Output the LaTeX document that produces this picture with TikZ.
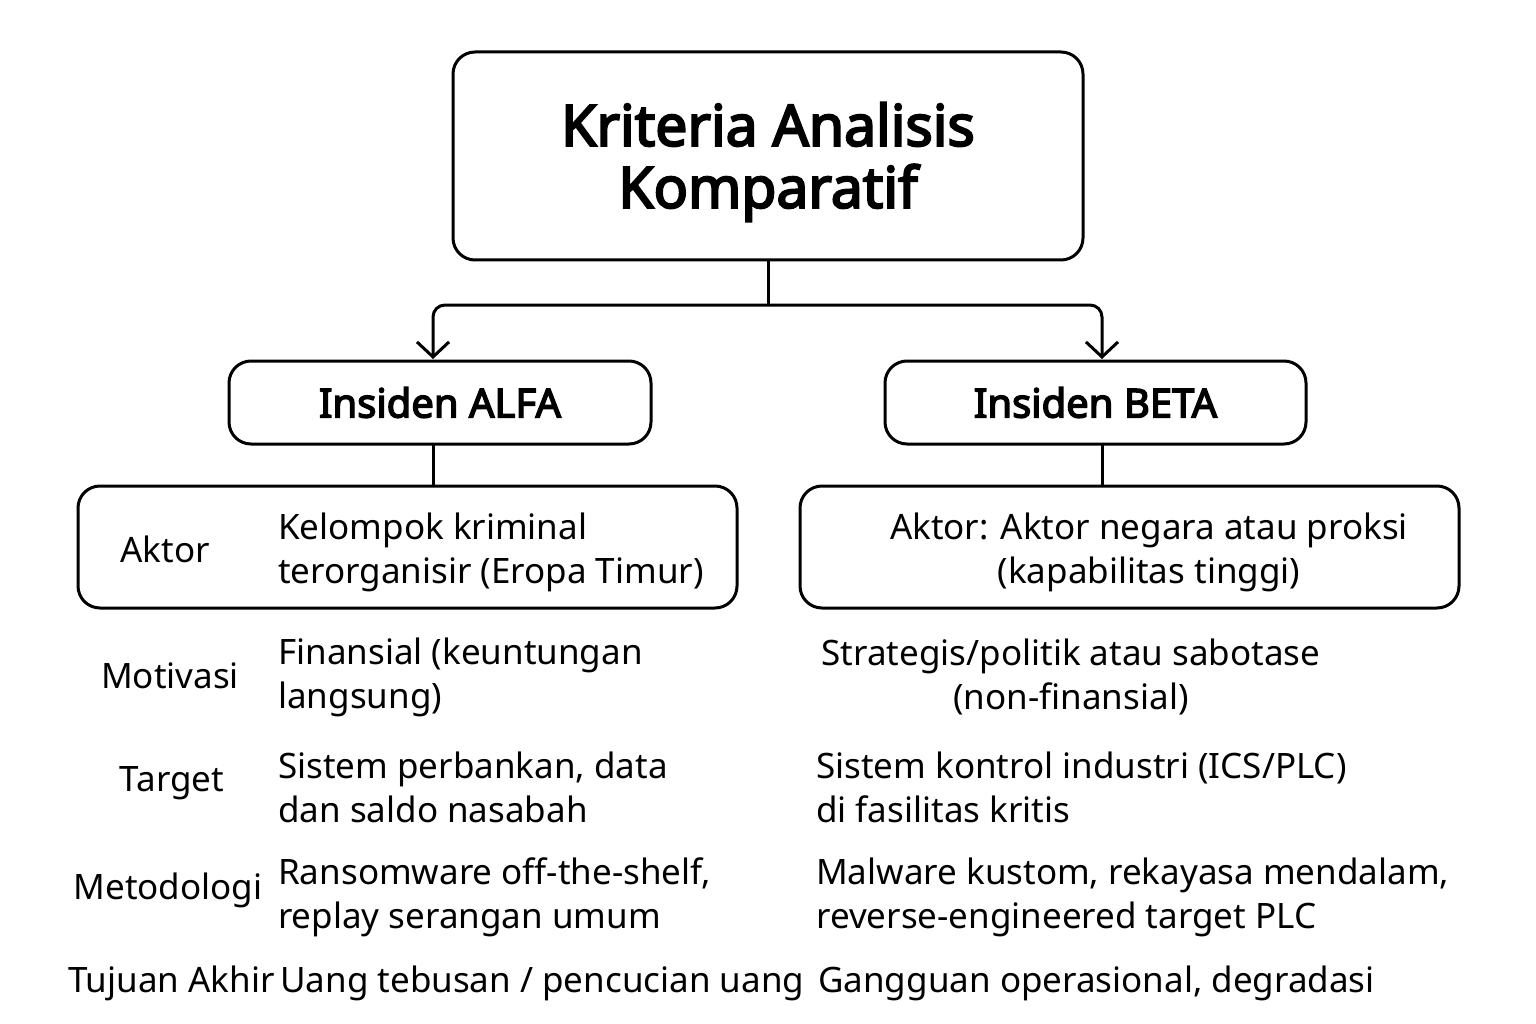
\documentclass[tikz,border=0pt]{standalone}
\usepackage{fontspec}
\setmainfont{Noto Sans}[AutoFakeBold=3.6]
\usetikzlibrary{arrows.meta}
\tikzset{
	box/.style={draw,line width=3pt,rounded corners=22pt,inner sep=0pt},
	conn/.style={line width=3pt,rounded corners=12pt},
	cell/.style={anchor=west,align=left,inner sep=0pt,font=\fontsize{35}{44}\selectfont},
	label/.style={anchor=center,inner sep=0pt,font=\fontsize{35}{44}\selectfont}
}
\begin{document}
\begin{tikzpicture}[x=1pt,y=-1pt]
	\useasboundingbox (0,0) rectangle (1536,1024);
	
	\node[box,minimum width=630pt,minimum height=208pt] (title) at (768,156) {};
	\node[align=center,inner sep=0pt,font=\fontsize{57}{62}\selectfont\bfseries]
		(titleText) at (768,162) {Kriteria Analisis\\Komparatif};
	\node[box,minimum width=422pt,minimum height=83pt,font=\fontsize{40}{44}\selectfont\bfseries]
		(alfa) at (440,402.5) {Insiden ALFA};
	\node[box,minimum width=421pt,minimum height=83pt,font=\fontsize{40}{44}\selectfont\bfseries]
		(beta) at (1095.5,402.5) {Insiden BETA};
	\node[box,minimum width=659pt,minimum height=122pt] (alfaAktor) at (407.5,547) {};
	\node[box,minimum width=659pt,minimum height=122pt] (betaAktor) at (1129.5,547) {};
	
	\coordinate (split) at (768,305);
	\coordinate (alfaIn) at (433,359);
	\coordinate (betaIn) at (1102,359);
	\coordinate (alfaOut) at (433,444);
	\coordinate (betaOut) at (1102,444);
	\draw[conn] (title.south) -- (split);
	\draw[conn,-{Straight Barb[length=15pt,width=32pt]}] (split) -| (alfaIn);
	\draw[conn,-{Straight Barb[length=15pt,width=32pt]}] (split) -| (betaIn);
	\draw[conn] (alfaOut) -- (alfaOut |- alfaAktor.north);
	\draw[conn] (betaOut) -- (betaOut |- betaAktor.north);
	
	% row labels
	\node[label] (lAktor) at (165,549) {Aktor};
	\node[label] (lMotivasi) at (170,676) {Motivasi};
	\node[label] (lTarget) at (172,783) {Target};
	\node[label] (lMetodologi) at (168,890) {Metodologi};
	\node[label,anchor=west] (lTujuan) at (68,983) {Tujuan Akhir};
	
	% ALFA
	\node[cell] (aAktor) at (278,552) {Kelompok kriminal\\terorganisir (Eropa Timur)};
	\node[cell] (aMotivasi) at (278,677) {Finansial (keuntungan\\langsung)};
	\node[cell] (aTarget) at (278,787) {Sistem perbankan, data\\dan saldo nasabah};
	\node[cell] (aMetodologi) at (278,897) {Ransomware off-the-shelf,\\replay serangan umum};
	\node[cell] (aTujuan) at (280,983) {Uang tebusan / pencucian uang};
	
	% BETA
	\node[cell,anchor=center,align=center] (bAktor) at (1149,552)
		{Aktor: Aktor negara atau proksi\\(kapabilitas tinggi)};
	\node[cell,anchor=center,align=center] (bMotivasi) at (1071,677)
		{Strategis/politik atau sabotase\\(non-finansial)};
	\node[cell] (bTarget) at (816,787) {Sistem kontrol industri (ICS/PLC)\\di fasilitas kritis};
	\node[cell] (bMetodologi) at (816,897) {Malware kustom, rekayasa mendalam,\\reverse-engineered target PLC};
	\node[cell] (bTujuan) at (818,983) {Gangguan operasional, degradasi};
\end{tikzpicture}
\end{document}
